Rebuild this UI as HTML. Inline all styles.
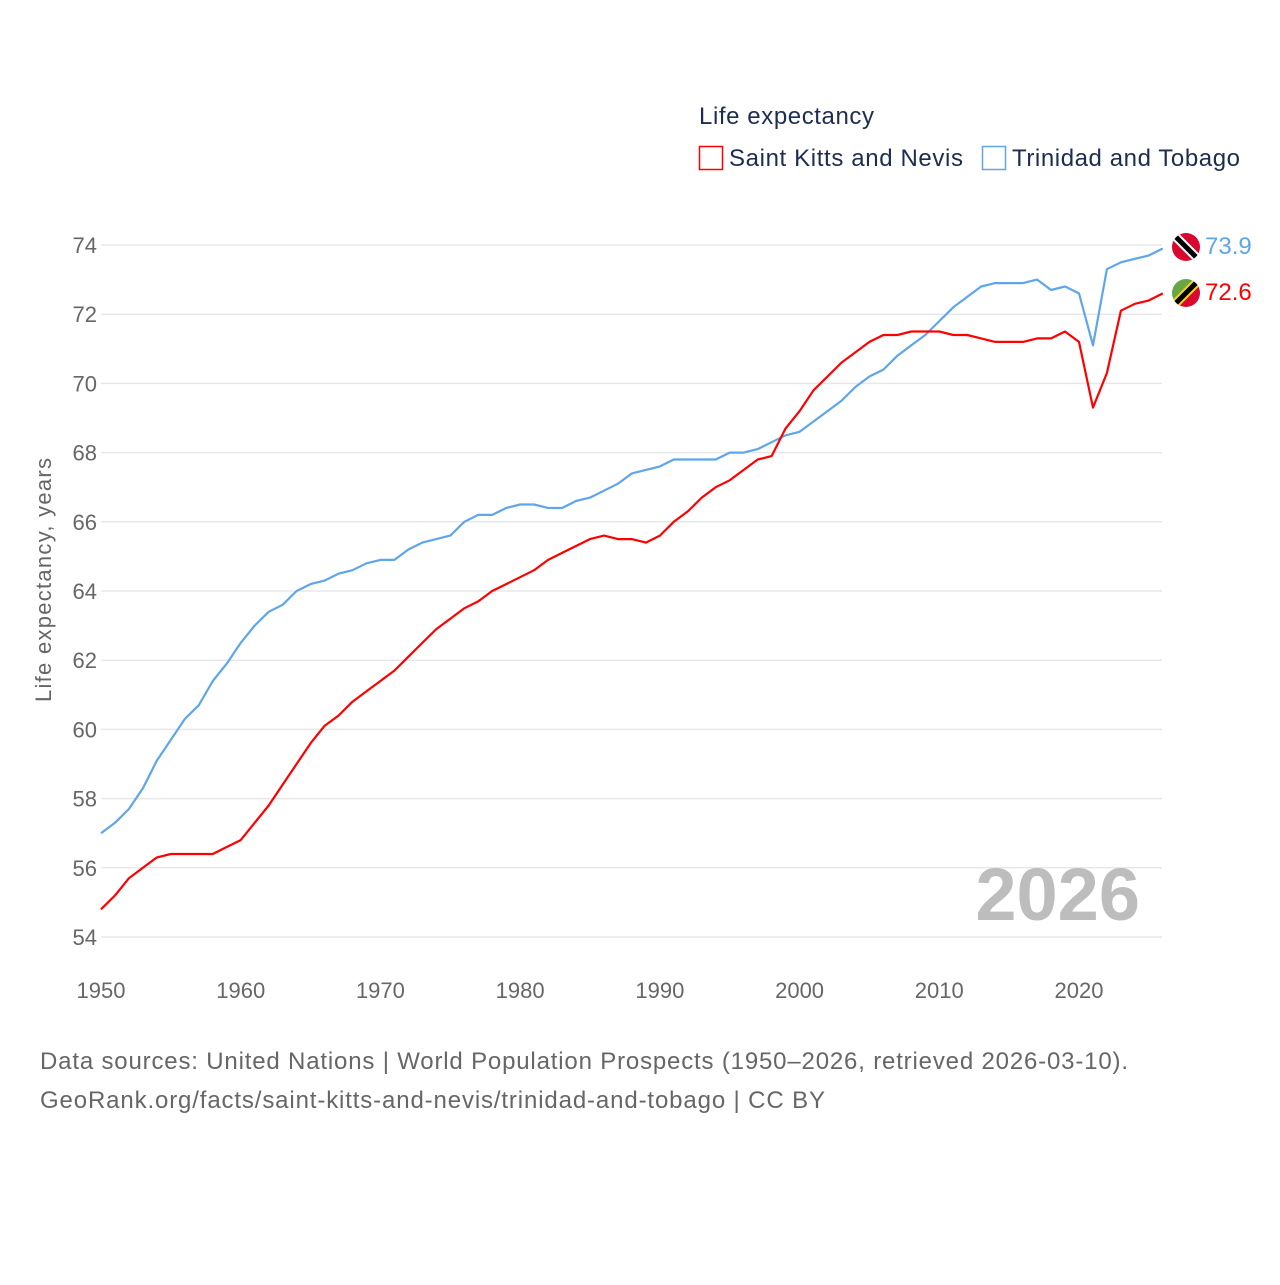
<!DOCTYPE html>
<html><head><meta charset="utf-8"><style>
body{margin:0;background:#fff;font-family:"Liberation Sans",sans-serif;}
svg text{font-family:"Liberation Sans",sans-serif;}
</style></head><body>
<svg id="chart" width="1280" height="1280" viewBox="0 0 1280 1280">
<g>
<text x="699" y="124" font-size="24" fill="#1d2d4f" textLength="175">Life expectancy</text>
<g><rect x="699.5" y="146.5" width="23" height="23" fill="none" stroke="#ff0000" stroke-width="1.5"/><text x="729" y="166" font-size="24" fill="#1d2d4f" textLength="234">Saint Kitts and Nevis</text></g>
<g><rect x="982.5" y="146.5" width="23" height="23" fill="none" stroke="#5ea5ea" stroke-width="1.5"/><text x="1012" y="166" font-size="24" fill="#1d2d4f" textLength="228">Trinidad and Tobago</text></g>
</g>
<g id="grid"></g>
<g id="yticks"></g>
<g id="xticks"></g>
<text transform="translate(51,580) rotate(-90)" text-anchor="middle" font-size="22" fill="#666" textLength="244">Life expectancy, years</text>
<text x="1140" y="920" text-anchor="end" font-size="74" font-weight="bold" fill="#bdbdbd">2026</text>
<g id="series"></g>
<g>
<clipPath id="c1"><circle cx="1186" cy="247" r="14"/></clipPath>
<g clip-path="url(#c1)"><rect x="1170" y="231" width="32" height="32" fill="#d9082e"/><line x1="1170" y1="231" x2="1202" y2="263" stroke="#fff" stroke-width="9"/><line x1="1170" y1="231" x2="1202" y2="263" stroke="#000" stroke-width="5"/></g>
</g>
<g>
<clipPath id="c2"><circle cx="1186" cy="293" r="14"/></clipPath>
<g clip-path="url(#c2)"><polygon points="1170,277 1202,277 1170,309" fill="#6aa544"/><polygon points="1202,277 1202,309 1170,309" fill="#d9082e"/><line x1="1202" y1="277" x2="1170" y2="309" stroke="#f7d417" stroke-width="9"/><line x1="1202" y1="277" x2="1170" y2="309" stroke="#000" stroke-width="5"/></g>
</g>
<text x="1205" y="254" font-size="24" fill="#5ea5ea">73.9</text>
<text x="1205" y="300" font-size="24" fill="#ff0000">72.6</text>
<text x="40" y="1069" font-size="24" fill="#666" textLength="1088">Data sources: United Nations | World Population Prospects (1950–2026, retrieved 2026-03-10).</text>
<text x="40" y="1108" font-size="24" fill="#666" textLength="785">GeoRank.org/facts/saint-kitts-and-nevis/trinidad-and-tobago | CC BY</text>
</svg>
<script>
const startYear = 1950;
const sknValues = [54.8,55.2,55.7,56.0,56.3,56.4,56.4,56.4,56.4,56.6,56.8,57.3,57.8,58.4,59.0,59.6,60.1,60.4,60.8,61.1,61.4,61.7,62.1,62.5,62.9,63.2,63.5,63.7,64.0,64.2,64.4,64.6,64.9,65.1,65.3,65.5,65.6,65.5,65.5,65.4,65.6,66.0,66.3,66.7,67.0,67.2,67.5,67.8,67.9,68.7,69.2,69.8,70.2,70.6,70.9,71.2,71.4,71.4,71.5,71.5,71.5,71.4,71.4,71.3,71.2,71.2,71.2,71.3,71.3,71.5,71.2,69.3,70.3,72.1,72.3,72.4,72.6];
const ttValues = [57.0,57.3,57.7,58.3,59.1,59.7,60.3,60.7,61.4,61.9,62.5,63.0,63.4,63.6,64.0,64.2,64.3,64.5,64.6,64.8,64.9,64.9,65.2,65.4,65.5,65.6,66.0,66.2,66.2,66.4,66.5,66.5,66.4,66.4,66.6,66.7,66.9,67.1,67.4,67.5,67.6,67.8,67.8,67.8,67.8,68.0,68.0,68.1,68.3,68.5,68.6,68.9,69.2,69.5,69.9,70.2,70.4,70.8,71.1,71.4,71.8,72.2,72.5,72.8,72.9,72.9,72.9,73.0,72.7,72.8,72.6,71.1,73.3,73.5,73.6,73.7,73.9];
const yTicks = [54,56,58,60,62,64,66,68,70,72,74];
const xTicks = [1950,1960,1970,1980,1990,2000,2010,2020];
const NS='http://www.w3.org/2000/svg';
function xs(yr){return 101+(yr-1950)*(1079-101)/70;}
function ys(v){return 937-(v-54)*(937-245)/20;}
function mk(tag,attrs,parent){const e=document.createElementNS(NS,tag);for(const k in attrs)e.setAttribute(k,attrs[k]);parent.appendChild(e);return e;}
const grid=document.getElementById('grid'),yt=document.getElementById('yticks'),xt=document.getElementById('xticks'),ser=document.getElementById('series');
yTicks.forEach(v=>{
  const l=mk('line',{x1:101,x2:1162,y1:ys(v),y2:ys(v),stroke:'#e8e8e8','stroke-width':1.5},grid);
  
  
  const t=mk('text',{x:97,y:ys(v)+8,'text-anchor':'end','font-size':22,fill:'#666'},yt);
  t.textContent=v;
  
  
});
xTicks.forEach(v=>{
  const t=mk('text',{x:xs(v),y:998,'text-anchor':'middle','font-size':22,fill:'#666'},xt);
  t.textContent=v;
  
  
});
function line(vals,color,name){
  const d=vals.map((v,i)=>(i?'L':'M')+xs(startYear+i).toFixed(1)+','+ys(v).toFixed(1)).join('');
  const p=mk('path',{d:d,fill:'none',stroke:color,'stroke-width':2.2,'stroke-linejoin':'round'},ser);
  
  
}
line(ttValues,'#5ea5ea','line-trinidad-and-tobago');
line(sknValues,'#ff0000','line-saint-kitts-and-nevis');
</script>
</body></html>
